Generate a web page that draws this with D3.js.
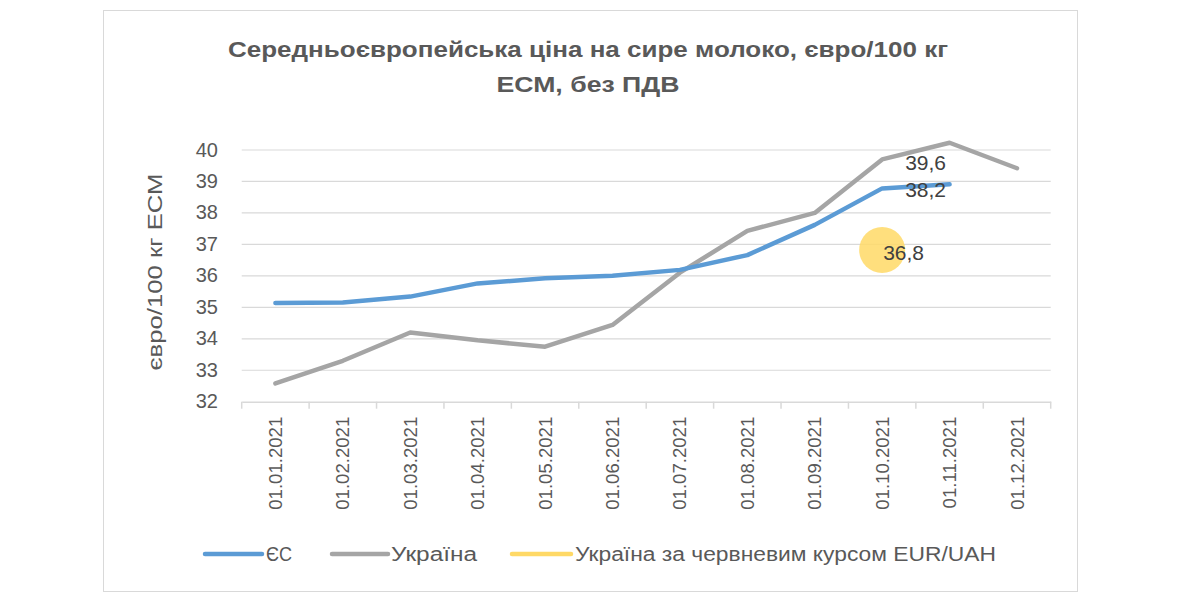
<!DOCTYPE html>
<html><head><meta charset="utf-8">
<script src="https://cdn.jsdelivr.net/npm/d3@7/dist/d3.min.js"></script>
<style>body{margin:0;background:#fff}svg{display:block}text{font-family:"Liberation Sans",Arial,sans-serif}</style>
</head><body>
<svg id="c" width="1200" height="600"></svg>
<script>
const categories = ["01.01.2021","01.02.2021","01.03.2021","01.04.2021","01.05.2021","01.06.2021","01.07.2021","01.08.2021","01.09.2021","01.10.2021","01.11.2021","01.12.2021"];
const euValues = [35.14,35.15,35.34,35.76,35.92,36.0,36.19,36.66,37.62,38.78,38.91,null];
const uaValues = [32.58,33.3,34.2,33.95,33.75,34.44,36.1,37.43,38.0,39.7,40.23,39.42];
const uaJuneRate = [null,null,null,null,null,null,null,null,null,36.82,null,null];
const yTicks = [32,33,34,35,36,37,38,39,40];
const seriesNames = ["ЄС","Україна","Україна за червневим курсом EUR/UAH"];
const dataLabels = [{series:"ua", idx:9, text:"39,6"},{series:"eu", idx:9, text:"38,2"},{series:"yr", idx:9, text:"36,8"}];
const titleLines = ["Середньоєвропейська ціна на сире молоко, євро/100 кг","ЕСМ, без ПДВ"];
const yTitle = "євро/100 кг ЕСМ";

const svg = d3.select("#c");
const colors = {eu:"#5b9bd5", ua:"#a5a5a5", yr:"#ffd966"};
const grey = "#595959";

svg.append("rect").attr("x",103.5).attr("y",10.5).attr("width",974).attr("height",581)
  .attr("fill","#fff").attr("stroke","#d9d9d9").attr("stroke-width",1);

const x = d3.scaleBand().domain(categories).range([241.7,1050.7]);
const y = d3.scaleLinear().domain([32,40]).range([401.7,150]);
const cx = d => x(d) + x.bandwidth()/2;

// gridlines
svg.append("g").selectAll("line").data(yTicks.slice(1)).join("line")
  .attr("x1",241.7).attr("x2",1050.7).attr("y1",d=>y(d)).attr("y2",d=>y(d))
  .attr("stroke","#d9d9d9").attr("stroke-width",1.2);

// y axis labels
const yAxis = d3.axisLeft(y).tickValues(yTicks).tickSize(0).tickPadding(0).tickFormat(d3.format("d"));
const gy = svg.append("g").attr("transform","translate(218,0)").call(yAxis);
gy.select(".domain").remove();
gy.selectAll("text").attr("font-size",20).attr("fill",grey).attr("font-family","Liberation Sans, Arial, sans-serif").attr("dy","0.3em");

// x axis
const xAxis = d3.axisBottom(x).tickSize(7).tickSizeOuter(0).tickFormat(d=>d);
const gx = svg.append("g").attr("transform","translate(0,401.7)").call(xAxis);
gx.select(".domain").attr("stroke","#d9d9d9").attr("stroke-width",1.5);
gx.selectAll(".tick line").attr("stroke","#d9d9d9").attr("stroke-width",1.5)
  .attr("transform",`translate(${-x.bandwidth()/2},0)`);
gx.append("line").attr("x1",1050.7).attr("x2",1050.7).attr("y1",0).attr("y2",7).attr("stroke","#d9d9d9").attr("stroke-width",1.5);
gx.selectAll(".tick text").attr("font-size",18.6).attr("fill",grey).attr("font-family","Liberation Sans, Arial, sans-serif")
  .attr("transform","rotate(-90)").attr("text-anchor","end").attr("x",-15).attr("y",0).attr("dy","0.35em");

// y title
svg.append("text").attr("transform","translate(155,272) rotate(-90)").attr("text-anchor","middle")
  .attr("dy","0.35em").attr("font-size",20).attr("fill",grey).attr("textLength",197).attr("lengthAdjust","spacingAndGlyphs").text(yTitle);

// title
svg.selectAll(".title").data(titleLines).join("text").attr("class","title")
  .attr("x",588).attr("y",(d,i)=>57+i*34.7).attr("text-anchor","middle")
  .attr("font-size",22).attr("font-weight","bold").attr("fill",grey)
  .attr("textLength",(d,i)=>i===0?720:183).attr("lengthAdjust","spacingAndGlyphs").text(d=>d);

// lines
const line = d3.line().defined(d=>d.v!=null).x(d=>cx(d.c)).y(d=>y(d.v));
const mk = arr => categories.map((c,i)=>({c, v:arr[i]}));
svg.append("path").datum(mk(uaValues)).attr("d",line).attr("fill","none").attr("stroke",colors.ua)
  .attr("stroke-width",4.5).attr("stroke-linejoin","round").attr("stroke-linecap","round");
svg.append("path").datum(mk(euValues)).attr("d",line).attr("fill","none").attr("stroke",colors.eu)
  .attr("stroke-width",4.5).attr("stroke-linejoin","round").attr("stroke-linecap","round");

// yellow point
svg.append("g").selectAll("circle").data(mk(uaJuneRate).filter(d=>d.v!=null)).join("circle")
  .attr("cx",d=>cx(d.c)).attr("cy",d=>y(d.v)).attr("r",23).attr("fill",colors.yr).attr("opacity",0.85);

// data labels
const vals = {eu:euValues, ua:uaValues, yr:uaJuneRate};
const offs = {eu:[23,1], ua:[23,3], yr:[1,3]};
svg.append("g").selectAll("text").data(dataLabels).join("text")
  .attr("x",d=>cx(categories[d.idx])+offs[d.series][0])
  .attr("y",d=>y(vals[d.series][d.idx])+offs[d.series][1])
  .attr("dy","0.35em").attr("font-size",21).attr("fill","#404040").text(d=>d.text);

// legend
const legendX = [[205,262,266,26],[332,388,391,86],[512,571,575,421]];
const lg = svg.append("g");
["eu","ua","yr"].forEach((k,i)=>{
  lg.append("line").attr("x1",legendX[i][0]).attr("x2",legendX[i][1]).attr("y1",554).attr("y2",554)
    .attr("stroke",colors[k]).attr("stroke-width",4.5).attr("stroke-linecap","round");
  lg.append("text").attr("x",legendX[i][2]).attr("y",554).attr("dy","0.35em").attr("font-size",20)
    .attr("fill",grey).attr("textLength",legendX[i][3]).attr("lengthAdjust","spacingAndGlyphs").text(seriesNames[i]);
});
</script>
</body></html>
